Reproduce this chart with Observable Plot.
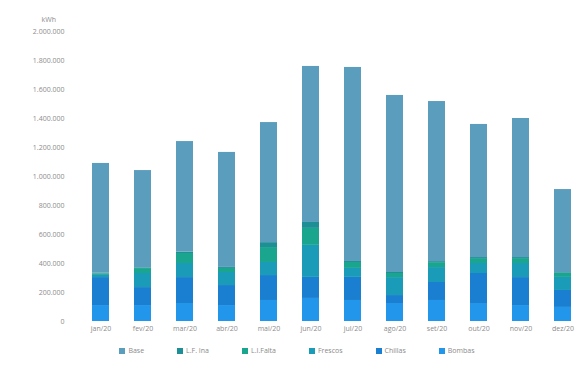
<!DOCTYPE html>
<html>
<head>
<meta charset="utf-8">
<script src="https://cdn.jsdelivr.net/npm/d3@7"></script>
<script src="https://cdn.jsdelivr.net/npm/@observablehq/plot@0.6"></script>
<style>
  html, body { margin: 0; padding: 0; background: #fff; }
  body { width: 587px; height: 383px; overflow: hidden; font-family: "Open Sans", "DejaVu Sans", sans-serif; }
  #legend { display: flex; justify-content: center; margin-top: 10px; margin-left: 40px; }
  #legend > div { min-height: 0 !important; margin: 0 !important; justify-content: center; font-size: 7px !important; color: #8a8a8a; }
  #legend .lg-swatch { margin-right: 33px !important; }
  #legend .lg-swatch svg { margin-right: 3px !important; }
</style>
</head>
<body>
<div id="chart"></div>
<div id="legend"></div>
<script>
const months = ["jan/20","fev/20","mar/20","abr/20","mai/20","jun/20","jul/20","ago/20","set/20","out/20","nov/20","dez/20"];
const seriesNames = ["Base","L.F. Ina","L.I.Falta","Frescos","Chillas","Bombas"];
const seriesColors = ["#5b9dbd","#1f8f96","#1aa58f","#1a9cb8","#1a7fd0","#2196ea"];
// stacked bottom to top: Bombas, Chillas, Frescos, L.I.Falta, L.F. Ina, Base
const bombas   = [110000,110000,124000,110000,145000,159000,145000,124000,145000,124000,110000, 97000];
const chillas  = [193000,124000,179000,138000,172000,145000,159000, 55000,124000,207000,193000,117000];
const frescos  = [ 15000, 97000, 97000, 90000, 90000,221000, 62000,124000,103000, 69000, 97000, 90000];
const liFalta  = [ 10000, 34000, 69000, 28000,103000,117000, 41000, 28000, 34000, 34000, 34000, 28000];
const lfIna    = [  5000,  5000, 10000,  7000, 34000, 41000,  7000,  7000,  7000,  7000,  7000,  5000];
const base     = [757000,671000,762000,793000,828000,1076000,1338000,1221000,1104000,918000,959000,573000];
const yTicks = [0,200000,400000,600000,800000,1000000,1200000,1400000,1600000,1800000,2000000];

const stackOrder = ["Bombas","Chillas","Frescos","L.I.Falta","L.F. Ina","Base"];
const bySeries = {"Base": base, "L.F. Ina": lfIna, "L.I.Falta": liFalta, "Frescos": frescos, "Chillas": chillas, "Bombas": bombas};
const data = [];
months.forEach((m, i) => {
  stackOrder.forEach(s => data.push({month: m, series: s, value: bySeries[s][i]}));
});

const fmt = d3.formatLocale({decimal: ",", thousands: ".", grouping: [3], currency: ["", ""]}).format(",");

const chart = Plot.plot({
  width: 587,
  height: 336,
  marginLeft: 75,
  marginRight: 0,
  marginTop: 31,
  marginBottom: 15,
  style: {fontFamily: "'Open Sans', 'DejaVu Sans', sans-serif", fontSize: "7px", color: "#8c8c8c", background: "#fff"},
  x: {domain: months, paddingInner: 0.6, paddingOuter: 0.3, label: null, tickSize: 0, tickPadding: 5},
  y: {domain: [0, 2000000], ticks: yTicks, tickFormat: fmt, tickSize: 0, tickPadding: 11, label: null},
  color: {domain: seriesNames, range: seriesColors},
  marks: [
    Plot.barY(data, {x: "month", y: "value", fill: "series", order: stackOrder}),
    Plot.text(["kWh"], {frameAnchor: "top-left", dx: -34, dy: -14, fill: "#8c8c8c", fontSize: 7})
  ]
});
document.getElementById("chart").appendChild(chart);

const leg = Plot.legend({
  color: {domain: seriesNames, range: seriesColors},
  swatchSize: 6,
  className: "lg",
  style: {fontFamily: "'Open Sans', 'DejaVu Sans', sans-serif", fontSize: "7px", color: "#8a8a8a"}
});
document.getElementById("legend").appendChild(leg);
</script>
</body>
</html>
